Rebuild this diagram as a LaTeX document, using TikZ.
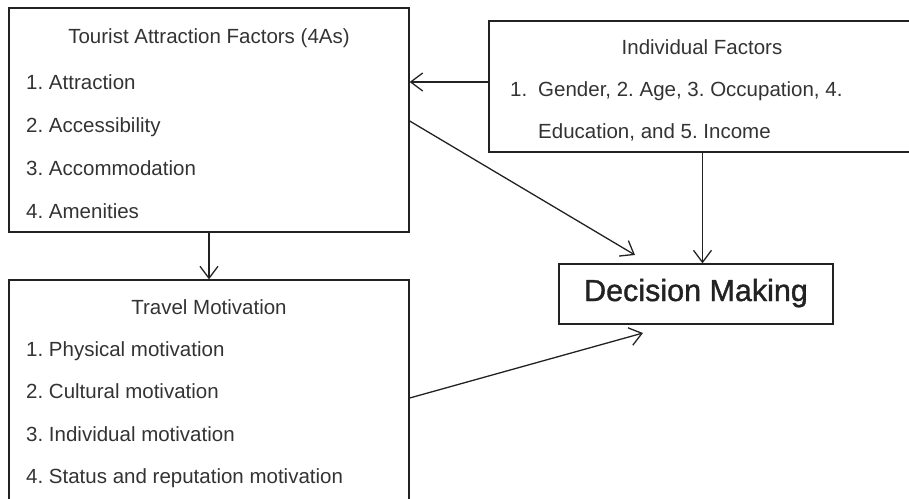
\documentclass[tikz,border=0pt]{standalone}
\usepackage{fontspec}
\setmainfont{Liberation Sans}
\newfontfamily\headfont[FakeBold=1.2]{Liberation Sans}
\usetikzlibrary{arrows.meta}
\definecolor{ink}{HTML}{222222}
\definecolor{txt}{HTML}{333333}
\frenchspacing
\begin{document}
\begin{tikzpicture}[x=1pt,y=-1pt,
  box/.style={draw=ink,line width=1.3pt,rectangle,inner sep=0pt},
  lbl/.style={anchor=base west,inner sep=0pt,text=txt,font=\fontsize{20.5}{24}\selectfont},
  ttl/.style={anchor=base,inner sep=0pt,text=txt,font=\fontsize{20.5}{24}\selectfont},
  arr/.style={draw=ink,line width=1.3pt,-{Straight Barb[length=12pt,width=18pt,line width=1.3pt]}}]
\useasboundingbox (0,0) rectangle (909,498);
\begin{scope}
\clip (0,0) rectangle (909,498);
% boxes
\node[box,minimum width=400pt,minimum height=224pt] (A) at (209,120) {};
\node[box,minimum width=427pt,minimum height=131pt] (B) at (702.5,86.5) {};
\node[box,minimum width=274pt,minimum height=60pt] (C) at (696,294) {};
\node[box,minimum width=400pt,minimum height=240pt] (D) at (209,400) {};
\end{scope}
% tourist attraction factors
\node[ttl] (At) at (209,43) {Tourist Attraction Factors (4As)};
\node[lbl] (A1) at (26,89) {1. Attraction};
\node[lbl] (A2) at (26,132) {2. Accessibility};
\node[lbl] (A3) at (26,175) {3. Accommodation};
\node[lbl] (A4) at (26,218) {4. Amenities};
% individual factors
\node[ttl] (Bt) at (702,54) {Individual Factors};
\node[lbl] (B1n) at (510,96) {1.};
\node[lbl] (B1) at (538,96) {Gender, 2. Age, 3. Occupation, 4.};
\node[lbl] (B2) at (538,138) {Education, and 5. Income};
% decision making
\node[anchor=base,inner sep=0pt,text=ink,font=\headfont\fontsize{30.5}{34}\selectfont] (Ct) at (696,301) {Decision Making};
% travel motivation
\node[ttl] (Dt) at (209,314) {Travel Motivation};
\node[lbl] (D1) at (26,356) {1. Physical motivation};
\node[lbl] (D2) at (26,398) {2. Cultural motivation};
\node[lbl] (D3) at (26,441) {3. Individual motivation};
\node[lbl] (D4) at (26,483) {4. Status and reputation motivation};
% free arrow ends near the decision box
\coordinate (acEnd) at (635,255);
\coordinate (dcEnd) at (643,333);
% connectors
\draw[arr] (B.west |- 0,82) -- (A.east |- 0,82);
\draw[arr] (A.east |- 0,121) -- (acEnd);
\draw[arr] (B.south) -- (B.south |- C.north);
\draw[arr] (A.south) -- (D.north);
\draw[arr] (D.east |- 0,398) -- (dcEnd);
\end{tikzpicture}
\end{document}
